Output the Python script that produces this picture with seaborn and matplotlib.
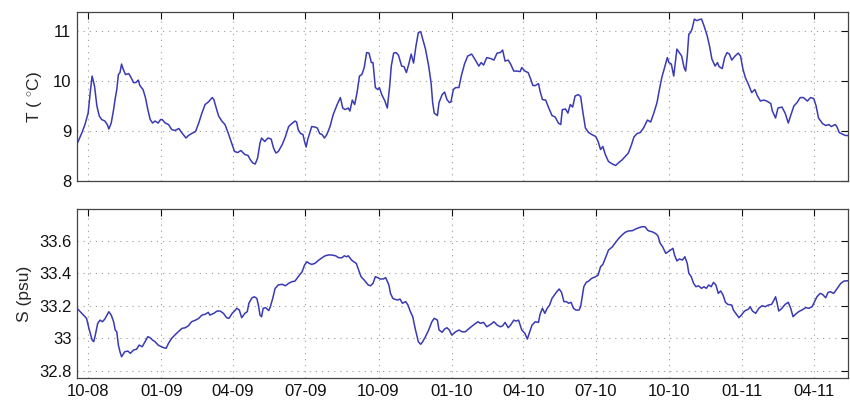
import matplotlib
matplotlib.use("Agg")
import matplotlib.pyplot as plt
import matplotlib.dates as mdates
from matplotlib.ticker import FuncFormatter
import seaborn as sns
import pandas as pd

# ---- data (days since 2008-10-01, values) ----
t_days = [-14, -8, -4, 0, 3, 5, 8, 11, 14, 17, 21, 24, 26, 29, 32, 34, 36, 38, 40, 42,
          44, 47, 51, 54, 57, 60, 63, 65, 69, 72, 75, 78, 81, 84, 88, 91, 93, 97, 101, 105,
          109, 114, 118, 123, 126, 130, 135, 139, 143, 147, 151, 156, 158, 161, 164, 168, 172, 176, 181, 184,
          188, 192, 197, 201, 204, 207, 210, 213, 216, 218, 222, 226, 230, 233, 236, 239, 244, 248, 252, 256,
          260, 262, 264, 267, 270, 272, 274, 276, 279, 281, 285, 288, 291, 294, 297, 300, 304, 308, 313, 317,
          320, 323, 327, 329, 332, 335, 338, 341, 344, 347, 350, 353, 356, 358, 361, 364, 366, 369, 373, 376,
          379, 381, 384, 387, 390, 394, 397, 400, 403, 406, 409, 412, 415, 418, 420, 424, 428, 431, 433, 435,
          439, 441, 445, 448, 451, 454, 456, 459, 462, 466, 469, 473, 477, 482, 486, 491, 494, 497, 501, 506,
          510, 514, 518, 521, 524, 528, 531, 535, 539, 543, 545, 549, 553, 556, 559, 562, 566, 568, 571, 575,
          579, 583, 587, 591, 594, 596, 600, 603, 606, 609, 612, 616, 619, 622, 625, 629, 633, 638, 641, 644,
          647, 650, 654, 659, 663, 667, 671, 675, 679, 683, 686, 690, 694, 698, 703, 707, 711, 715, 718, 721,
          725, 728, 730, 733, 736, 738, 740, 743, 746, 749, 751, 753, 755, 757, 759, 762, 765, 768, 771, 774,
          778, 781, 784, 788, 791, 793, 797, 800, 803, 806, 809, 813, 817, 820, 823, 826, 830, 834, 838, 841,
          845, 849, 853, 858, 860, 864, 867, 872, 876, 880, 883, 887, 891, 895, 899, 904, 908, 912, 915, 918,
          923, 927, 931, 934, 939, 941, 944, 949, 952, 955]
t_vals = [8.74, 8.96, 9.13, 9.36, 9.83, 10.10, 9.90, 9.50, 9.30, 9.23, 9.20, 9.13, 9.04, 9.16, 9.43, 9.65, 9.83, 10.13, 10.17, 10.34,
          10.24, 10.13, 10.15, 10.07, 9.97, 9.97, 10.02, 9.91, 9.83, 9.67, 9.43, 9.23, 9.16, 9.20, 9.16, 9.23, 9.23, 9.16, 9.13, 9.03,
          9.01, 9.05, 8.96, 8.86, 8.91, 8.95, 8.99, 9.16, 9.36, 9.53, 9.58, 9.67, 9.63, 9.46, 9.30, 9.20, 9.13, 8.96, 8.73, 8.59,
          8.57, 8.61, 8.53, 8.51, 8.42, 8.36, 8.34, 8.46, 8.76, 8.86, 8.79, 8.86, 8.84, 8.66, 8.56, 8.59, 8.73, 8.89, 9.09, 9.15,
          9.20, 9.18, 9.03, 8.95, 8.93, 8.79, 8.68, 8.83, 8.99, 9.09, 9.08, 9.06, 8.95, 8.93, 8.86, 8.93, 9.09, 9.33, 9.53, 9.67,
          9.46, 9.43, 9.46, 9.40, 9.62, 9.53, 9.77, 10.10, 10.13, 10.27, 10.57, 10.56, 10.37, 10.37, 9.87, 9.83, 9.87, 9.73, 9.60, 9.46,
          9.90, 10.30, 10.56, 10.57, 10.52, 10.30, 10.29, 10.17, 10.34, 10.54, 10.36, 10.70, 10.97, 10.99, 10.87, 10.64, 10.30, 9.97, 9.57, 9.36,
          9.31, 9.57, 9.73, 9.78, 9.63, 9.57, 9.58, 9.83, 9.87, 9.87, 10.10, 10.34, 10.50, 10.54, 10.44, 10.30, 10.37, 10.32, 10.47, 10.45,
          10.42, 10.56, 10.57, 10.62, 10.40, 10.42, 10.34, 10.20, 10.20, 10.19, 10.27, 10.20, 10.17, 10.05, 9.91, 9.91, 9.95, 9.80, 9.63, 9.62,
          9.46, 9.31, 9.28, 9.16, 9.13, 9.43, 9.44, 9.36, 9.53, 9.48, 9.70, 9.73, 9.69, 9.36, 9.06, 8.97, 8.93, 8.89, 8.79, 8.63,
          8.69, 8.53, 8.39, 8.34, 8.31, 8.37, 8.42, 8.49, 8.56, 8.73, 8.88, 8.95, 8.97, 9.06, 9.22, 9.18, 9.36, 9.57, 9.83, 10.07,
          10.30, 10.47, 10.37, 10.34, 10.10, 10.37, 10.64, 10.57, 10.50, 10.27, 10.20, 10.50, 10.94, 10.97, 11.04, 11.24, 11.21, 11.23, 11.24, 11.11,
          10.91, 10.70, 10.44, 10.30, 10.37, 10.29, 10.25, 10.47, 10.57, 10.54, 10.42, 10.50, 10.56, 10.50, 10.24, 10.07, 9.93, 9.77, 9.83, 9.71,
          9.60, 9.62, 9.60, 9.55, 9.40, 9.26, 9.46, 9.48, 9.36, 9.16, 9.31, 9.50, 9.57, 9.67, 9.67, 9.60, 9.67, 9.65, 9.50, 9.26,
          9.15, 9.11, 9.13, 9.09, 9.13, 9.09, 8.97, 8.93, 8.91, 8.91]

s_days = [-14, -10, -6, -2, 1, 5, 7, 9, 12, 15, 18, 21, 26, 29, 32, 34, 36, 38, 40, 42,
          46, 50, 53, 57, 61, 64, 68, 71, 75, 78, 81, 84, 88, 92, 95, 98, 101, 105, 109, 114,
          118, 122, 126, 130, 135, 139, 143, 147, 151, 153, 158, 162, 166, 170, 174, 177, 181, 184, 187, 190,
          193, 197, 200, 202, 206, 209, 212, 214, 216, 218, 220, 223, 227, 229, 232, 235, 239, 244, 248, 252,
          256, 260, 264, 269, 272, 275, 278, 281, 285, 290, 294, 298, 302, 306, 311, 315, 319, 322, 325, 327,
          331, 334, 337, 340, 343, 347, 352, 355, 358, 361, 364, 367, 371, 374, 378, 380, 383, 386, 389, 392,
          395, 399, 402, 405, 408, 411, 415, 418, 420, 424, 428, 432, 435, 439, 441, 445, 448, 451, 454, 457,
          462, 466, 470, 474, 478, 483, 487, 490, 493, 497, 501, 506, 510, 514, 518, 521, 524, 528, 531, 535,
          538, 541, 543, 545, 549, 552, 555, 558, 562, 566, 568, 571, 574, 577, 580, 583, 586, 589, 592, 595,
          598, 601, 604, 607, 610, 613, 617, 619, 621, 623, 626, 629, 633, 638, 641, 644, 647, 650, 654, 659,
          663, 667, 671, 675, 679, 684, 688, 692, 696, 700, 703, 705, 709, 713, 716, 719, 722, 726, 729, 732,
          735, 737, 740, 743, 747, 750, 753, 755, 758, 761, 764, 767, 771, 774, 777, 780, 783, 786, 789, 792,
          795, 798, 801, 804, 809, 811, 814, 818, 821, 825, 830, 832, 835, 839, 843, 847, 851, 855, 859, 862,
          864, 866, 868, 872, 876, 880, 883, 886, 889, 893, 897, 902, 906, 910, 913, 916, 920, 923, 927, 930,
          933, 937, 941, 946, 950, 955]
s_vals = [33.185, 33.164, 33.143, 33.123, 33.061, 32.989, 32.979, 33.020, 33.092, 33.112, 33.102, 33.119, 33.164, 33.143, 33.102, 33.051, 33.040, 32.958, 32.917, 32.886,
          32.917, 32.921, 32.907, 32.927, 32.933, 32.958, 32.948, 32.975, 33.010, 33.003, 32.989, 32.979, 32.958, 32.948, 32.942, 32.938, 32.969, 33.000, 33.020, 33.044,
          33.061, 33.065, 33.077, 33.102, 33.112, 33.123, 33.143, 33.148, 33.160, 33.143, 33.154, 33.168, 33.168, 33.154, 33.127, 33.123, 33.154, 33.168, 33.185, 33.174,
          33.127, 33.154, 33.164, 33.216, 33.250, 33.256, 33.246, 33.205, 33.143, 33.133, 33.185, 33.189, 33.171, 33.195, 33.246, 33.308, 33.329, 33.333, 33.324, 33.339,
          33.349, 33.353, 33.380, 33.411, 33.452, 33.472, 33.462, 33.456, 33.462, 33.483, 33.497, 33.509, 33.514, 33.514, 33.509, 33.497, 33.497, 33.509, 33.503, 33.509,
          33.483, 33.472, 33.462, 33.421, 33.380, 33.359, 33.329, 33.324, 33.339, 33.380, 33.374, 33.366, 33.366, 33.374, 33.329, 33.277, 33.246, 33.240, 33.236, 33.242,
          33.216, 33.226, 33.205, 33.164, 33.133, 33.061, 32.979, 32.963, 32.975, 33.010, 33.051, 33.102, 33.123, 33.112, 33.051, 33.037, 33.057, 33.065, 33.051, 33.020,
          33.040, 33.051, 33.040, 33.040, 33.057, 33.077, 33.092, 33.102, 33.092, 33.098, 33.071, 33.086, 33.102, 33.082, 33.071, 33.077, 33.098, 33.065, 33.082, 33.112,
          33.106, 33.112, 33.082, 33.051, 33.030, 32.995, 33.040, 33.082, 33.102, 33.098, 33.148, 33.185, 33.154, 33.185, 33.205, 33.246, 33.267, 33.287, 33.304, 33.283,
          33.226, 33.226, 33.216, 33.222, 33.185, 33.174, 33.174, 33.195, 33.256, 33.318, 33.345, 33.353, 33.370, 33.380, 33.390, 33.441, 33.456, 33.493, 33.544, 33.565,
          33.592, 33.617, 33.637, 33.654, 33.662, 33.664, 33.674, 33.682, 33.688, 33.688, 33.668, 33.662, 33.657, 33.647, 33.633, 33.586, 33.565, 33.524, 33.534, 33.544,
          33.555, 33.514, 33.477, 33.489, 33.483, 33.503, 33.462, 33.401, 33.380, 33.339, 33.318, 33.324, 33.308, 33.318, 33.308, 33.329, 33.318, 33.345, 33.329, 33.277,
          33.292, 33.267, 33.222, 33.209, 33.205, 33.174, 33.154, 33.127, 33.143, 33.168, 33.180, 33.195, 33.168, 33.154, 33.185, 33.201, 33.195, 33.205, 33.209, 33.236,
          33.256, 33.216, 33.168, 33.185, 33.209, 33.222, 33.185, 33.133, 33.148, 33.164, 33.174, 33.189, 33.185, 33.195, 33.226, 33.256, 33.277, 33.271, 33.250, 33.283,
          33.287, 33.277, 33.304, 33.339, 33.353, 33.355]

t_ticks = [8, 9, 10, 11]
s_ticks = [32.8, 33.0, 33.2, 33.4, 33.6]
t_label = "T ( $^{\\circ}$C)"
s_label = "S (psu)"

# ---- build frames ----
base = pd.Timestamp("2008-10-01")
df_t = pd.DataFrame({"date": base + pd.to_timedelta(t_days, unit="D"), "T": t_vals})
df_s = pd.DataFrame({"date": base + pd.to_timedelta(s_days, unit="D"), "S": s_vals})

sns.set_theme(style="white")
plt.rcParams["font.family"] = ["Liberation Sans", "DejaVu Sans"]
plt.rcParams["mathtext.fontset"] = "custom"
plt.rcParams["mathtext.rm"] = "Liberation Sans"

fig = plt.figure(figsize=(8.5, 4.04), dpi=100)
ax1 = fig.add_axes([0.0906, 0.552, 0.907, 0.418])
ax2 = fig.add_axes([0.0906, 0.0644, 0.907, 0.418])

line_color = "#3a3ab4"
sns.lineplot(data=df_t, x="date", y="T", ax=ax1, color=line_color, linewidth=1.1)
sns.lineplot(data=df_s, x="date", y="S", ax=ax2, color=line_color, linewidth=1.1)

xmin = base + pd.Timedelta(days=-14)
xmax = base + pd.Timedelta(days=955)
for ax in (ax1, ax2):
    ax.set_xlim(xmin, xmax)
    ax.xaxis.set_major_locator(mdates.MonthLocator(bymonth=[1, 4, 7, 10]))
    ax.xaxis.set_major_formatter(mdates.DateFormatter("%m-%y"))
    ax.grid(True, linestyle=(0, (1, 4.5)), color="0.6", linewidth=0.8)
    ax.tick_params(direction="in", top=True, right=True, length=5, width=0.8,
                   labelsize=12, colors="#111111", pad=4)
    for sp in ax.spines.values():
        sp.set_color("#444444")
        sp.set_linewidth(0.9)
    ax.set_xlabel("")

ax1.set_ylim(8, 11.38)
ax1.set_yticks(t_ticks)
ax1.set_ylabel(t_label, fontsize=12.5, labelpad=6)
ax1.tick_params(labelbottom=False)

ax2.set_ylim(32.755, 33.797)
ax2.set_yticks(s_ticks)
ax2.yaxis.set_major_formatter(FuncFormatter(lambda v, p: f"{v:g}"))
ax2.set_ylabel(s_label, fontsize=12.5, labelpad=5)

fig.savefig("out.png", dpi=100)
